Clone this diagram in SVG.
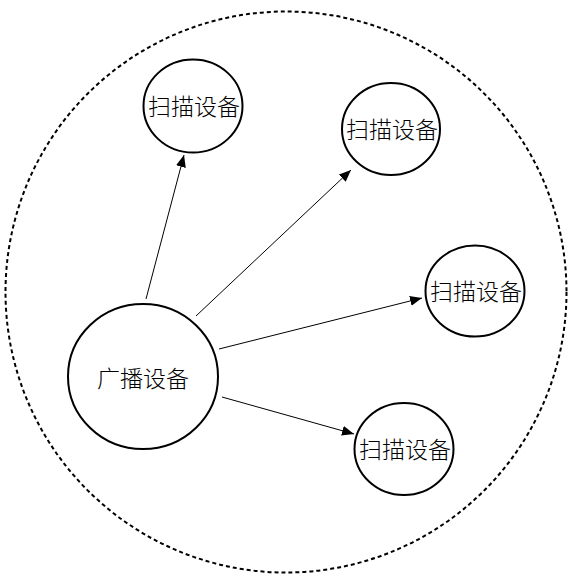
<svg xmlns="http://www.w3.org/2000/svg" width="573" height="583" viewBox="0 0 573 583">
<defs>
<style>
.node{fill:#fff;stroke:#000;stroke-width:2}
.lbl{font-family:"Noto Sans CJK SC","Noto Sans",sans-serif;font-size:23px;font-weight:300;fill:#000;text-anchor:middle;dominant-baseline:central}
.edge{stroke:#000;stroke-width:1;fill:none;marker-end:url(#ah)}
</style>
<marker id="ah" viewBox="0 0 12 10" refX="12" refY="5" markerWidth="12" markerHeight="10" markerUnits="userSpaceOnUse" orient="auto">
<path d="M0,0 L12,5 L0,10 Z" fill="#000"/>
</marker>
</defs>
<rect width="573" height="583" fill="#fff"/>
<g id="boundary">
<circle cx="286" cy="292" r="280.5" fill="none" stroke="#000" stroke-width="2" stroke-dasharray="4 3"/>
</g>
<g id="connectors">
<line class="edge" x1="146" y1="299" x2="184" y2="155"/>
<line class="edge" x1="196" y1="316" x2="351" y2="170"/>
<line class="edge" x1="219" y1="349" x2="422" y2="298"/>
<line class="edge" x1="222" y1="397" x2="354" y2="434"/>
</g>
<g id="broadcast">
<ellipse class="node" cx="143" cy="376.5" rx="75" ry="72.5"/>
<text class="lbl" x="143" y="377">广播设备</text>
</g>
<g id="scan1">
<ellipse class="node" cx="193" cy="106" rx="49.5" ry="46.5"/>
<text class="lbl" x="194" y="105">扫描设备</text>
</g>
<g id="scan2">
<ellipse class="node" cx="391" cy="129" rx="49" ry="46"/>
<text class="lbl" x="392" y="128">扫描设备</text>
</g>
<g id="scan3">
<ellipse class="node" cx="475" cy="291" rx="49.5" ry="45.5"/>
<text class="lbl" x="476" y="290">扫描设备</text>
</g>
<g id="scan4">
<ellipse class="node" cx="404" cy="449" rx="49.5" ry="46"/>
<text class="lbl" x="405" y="448">扫描设备</text>
</g>
</svg>
